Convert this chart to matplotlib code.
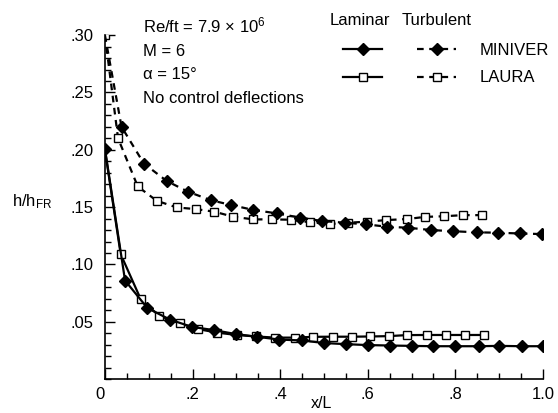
import matplotlib
matplotlib.use("Agg")
import matplotlib.pyplot as plt
from matplotlib.ticker import MultipleLocator

plt.rcParams['font.family'] = ['Liberation Sans', 'DejaVu Sans']
plt.rcParams['mathtext.fontset'] = 'custom'
plt.rcParams['mathtext.rm'] = 'Liberation Sans'
plt.rcParams['mathtext.it'] = 'Liberation Sans'

# laminar, MINIVER
x_min_lam = [0.0, 0.046, 0.097, 0.148, 0.198, 0.248, 0.299, 0.348, 0.398, 0.451,
             0.50, 0.55, 0.60, 0.651, 0.70, 0.75, 0.80, 0.853, 0.90, 0.952, 1.0]
y_min_lam = [0.201, 0.086, 0.062, 0.052, 0.0456, 0.0428, 0.0393, 0.0369, 0.0345, 0.0337,
             0.0315, 0.0305, 0.0297, 0.0293, 0.029, 0.0287, 0.0287, 0.0287, 0.029, 0.0287, 0.0287]

# laminar, LAURA
x_lau_lam = [0.0, 0.036, 0.082, 0.124, 0.171, 0.213, 0.257, 0.301, 0.345, 0.389, 0.434,
             0.476, 0.52, 0.563, 0.606, 0.648, 0.689, 0.735, 0.778, 0.823, 0.866]
y_lau_lam = [0.20, 0.109, 0.0695, 0.0552, 0.0486, 0.0436, 0.0405, 0.0385, 0.0372, 0.0362, 0.0362,
             0.0369, 0.037, 0.037, 0.0372, 0.0375, 0.0384, 0.0385, 0.0385, 0.0385, 0.0385]

# turbulent, MINIVER
x_min_tur = [0.0, 0.038, 0.089, 0.141, 0.19, 0.242, 0.289, 0.339, 0.392, 0.446, 0.495,
             0.547, 0.596, 0.644, 0.693, 0.745, 0.795, 0.849, 0.897, 0.947, 0.998]
y_min_tur = [0.30, 0.22, 0.188, 0.1728, 0.1634, 0.156, 0.1518, 0.1475, 0.1446, 0.1408, 0.1379,
             0.1364, 0.135, 0.1329, 0.132, 0.130, 0.129, 0.128, 0.1277, 0.127, 0.1265]

# turbulent, LAURA
x_lau_tur = [0.0, 0.03, 0.075, 0.118, 0.164, 0.207, 0.25, 0.293, 0.339, 0.381, 0.425,
             0.469, 0.514, 0.556, 0.598, 0.642, 0.69, 0.731, 0.773, 0.817, 0.861]
y_lau_tur = [0.30, 0.21, 0.168, 0.1556, 0.1497, 0.1483, 0.146, 0.1416, 0.1393, 0.1393, 0.139,
             0.1367, 0.1353, 0.1364, 0.1373, 0.1387, 0.1396, 0.1415, 0.142, 0.143, 0.143]

xticks = [0, 0.2, 0.4, 0.6, 0.8, 1.0]
xlabels = ['0', '.2', '.4', '.6', '.8', '1.0']
yticks = [0.05, 0.10, 0.15, 0.20, 0.25, 0.30]
ylabels = ['.05', '.10', '.15', '.20', '.25', '.30']

fig = plt.figure(figsize=(5.58, 4.13), dpi=100)
ax = fig.add_axes([0.188, 0.082, 0.785, 0.833])

lw = 1.6
l1, = ax.plot(x_min_lam, y_min_lam, color='k', lw=lw, marker='D', ms=6.5,
              mfc='k', mec='k', zorder=4)
l2, = ax.plot(x_lau_lam, y_lau_lam, color='k', lw=lw, marker='s', ms=5.5,
              mfc='white', mec='k', mew=1.0, markevery=slice(1, None), zorder=3)
l3, = ax.plot(x_min_tur, y_min_tur, color='k', lw=lw, dashes=(3, 2.5), marker='D', ms=6.5,
              mfc='k', mec='k', markevery=slice(1, None), zorder=4)
l4, = ax.plot(x_lau_tur, y_lau_tur, color='k', lw=lw, dashes=(3, 2.5), marker='s', ms=5.5,
              mfc='white', mec='k', mew=1.0, zorder=3)

ax.set_xlim(0, 1.0)
ax.set_ylim(0, 0.30)
ax.spines['top'].set_visible(False)
ax.spines['right'].set_visible(False)
ax.spines['left'].set_linewidth(1.2)
ax.spines['bottom'].set_linewidth(1.2)

ax.set_xticks(xticks, xlabels)
ax.set_yticks(yticks, ylabels)
ax.get_xticklabels()[0].set_ha('right')
ax.xaxis.set_minor_locator(MultipleLocator(0.05))
ax.yaxis.set_minor_locator(MultipleLocator(0.01))
ax.tick_params(which='both', direction='in', labelsize=12)
ax.tick_params(which='major', length=7, width=1)
ax.tick_params(which='minor', length=4, width=1)
ax.tick_params(axis='y', pad=8)
ax.tick_params(axis='x', pad=6)

ax.set_xlabel('x/L', fontsize=11.5)
ax.xaxis.set_label_coords(0.495, -0.05)
ax.set_ylabel(r'$\mathrm{h/h_{FR}}$', fontsize=12, rotation=0)
ax.yaxis.set_label_coords(-0.165, 0.49)

ax.text(0.087, 1.058, 'Re/ft = 7.9 × 10$^{6}$\nM = 6\nα = 15°\nNo control deflections',
        transform=ax.transAxes, fontsize=12, va='top', ha='left', linespacing=1.72)

ax.text(0.582, 1.064, 'Laminar', transform=ax.transAxes, fontsize=12, va='top', ha='center')
ax.text(0.758, 1.064, 'Turbulent', transform=ax.transAxes, fontsize=12, va='top', ha='center')

ax.legend([l1, l2, l3, l4], ['', '', 'MINIVER', 'LAURA'], ncol=2, frameon=False,
          loc='upper left', bbox_to_anchor=(343 / 558, 1 - 43 / 413),
          bbox_transform=fig.transFigure, fontsize=12, numpoints=1,
          handlelength=2.35, handletextpad=1.4, columnspacing=0.7,
          labelspacing=0.75, borderpad=0, borderaxespad=0)

fig.savefig('out.png', dpi=100)
